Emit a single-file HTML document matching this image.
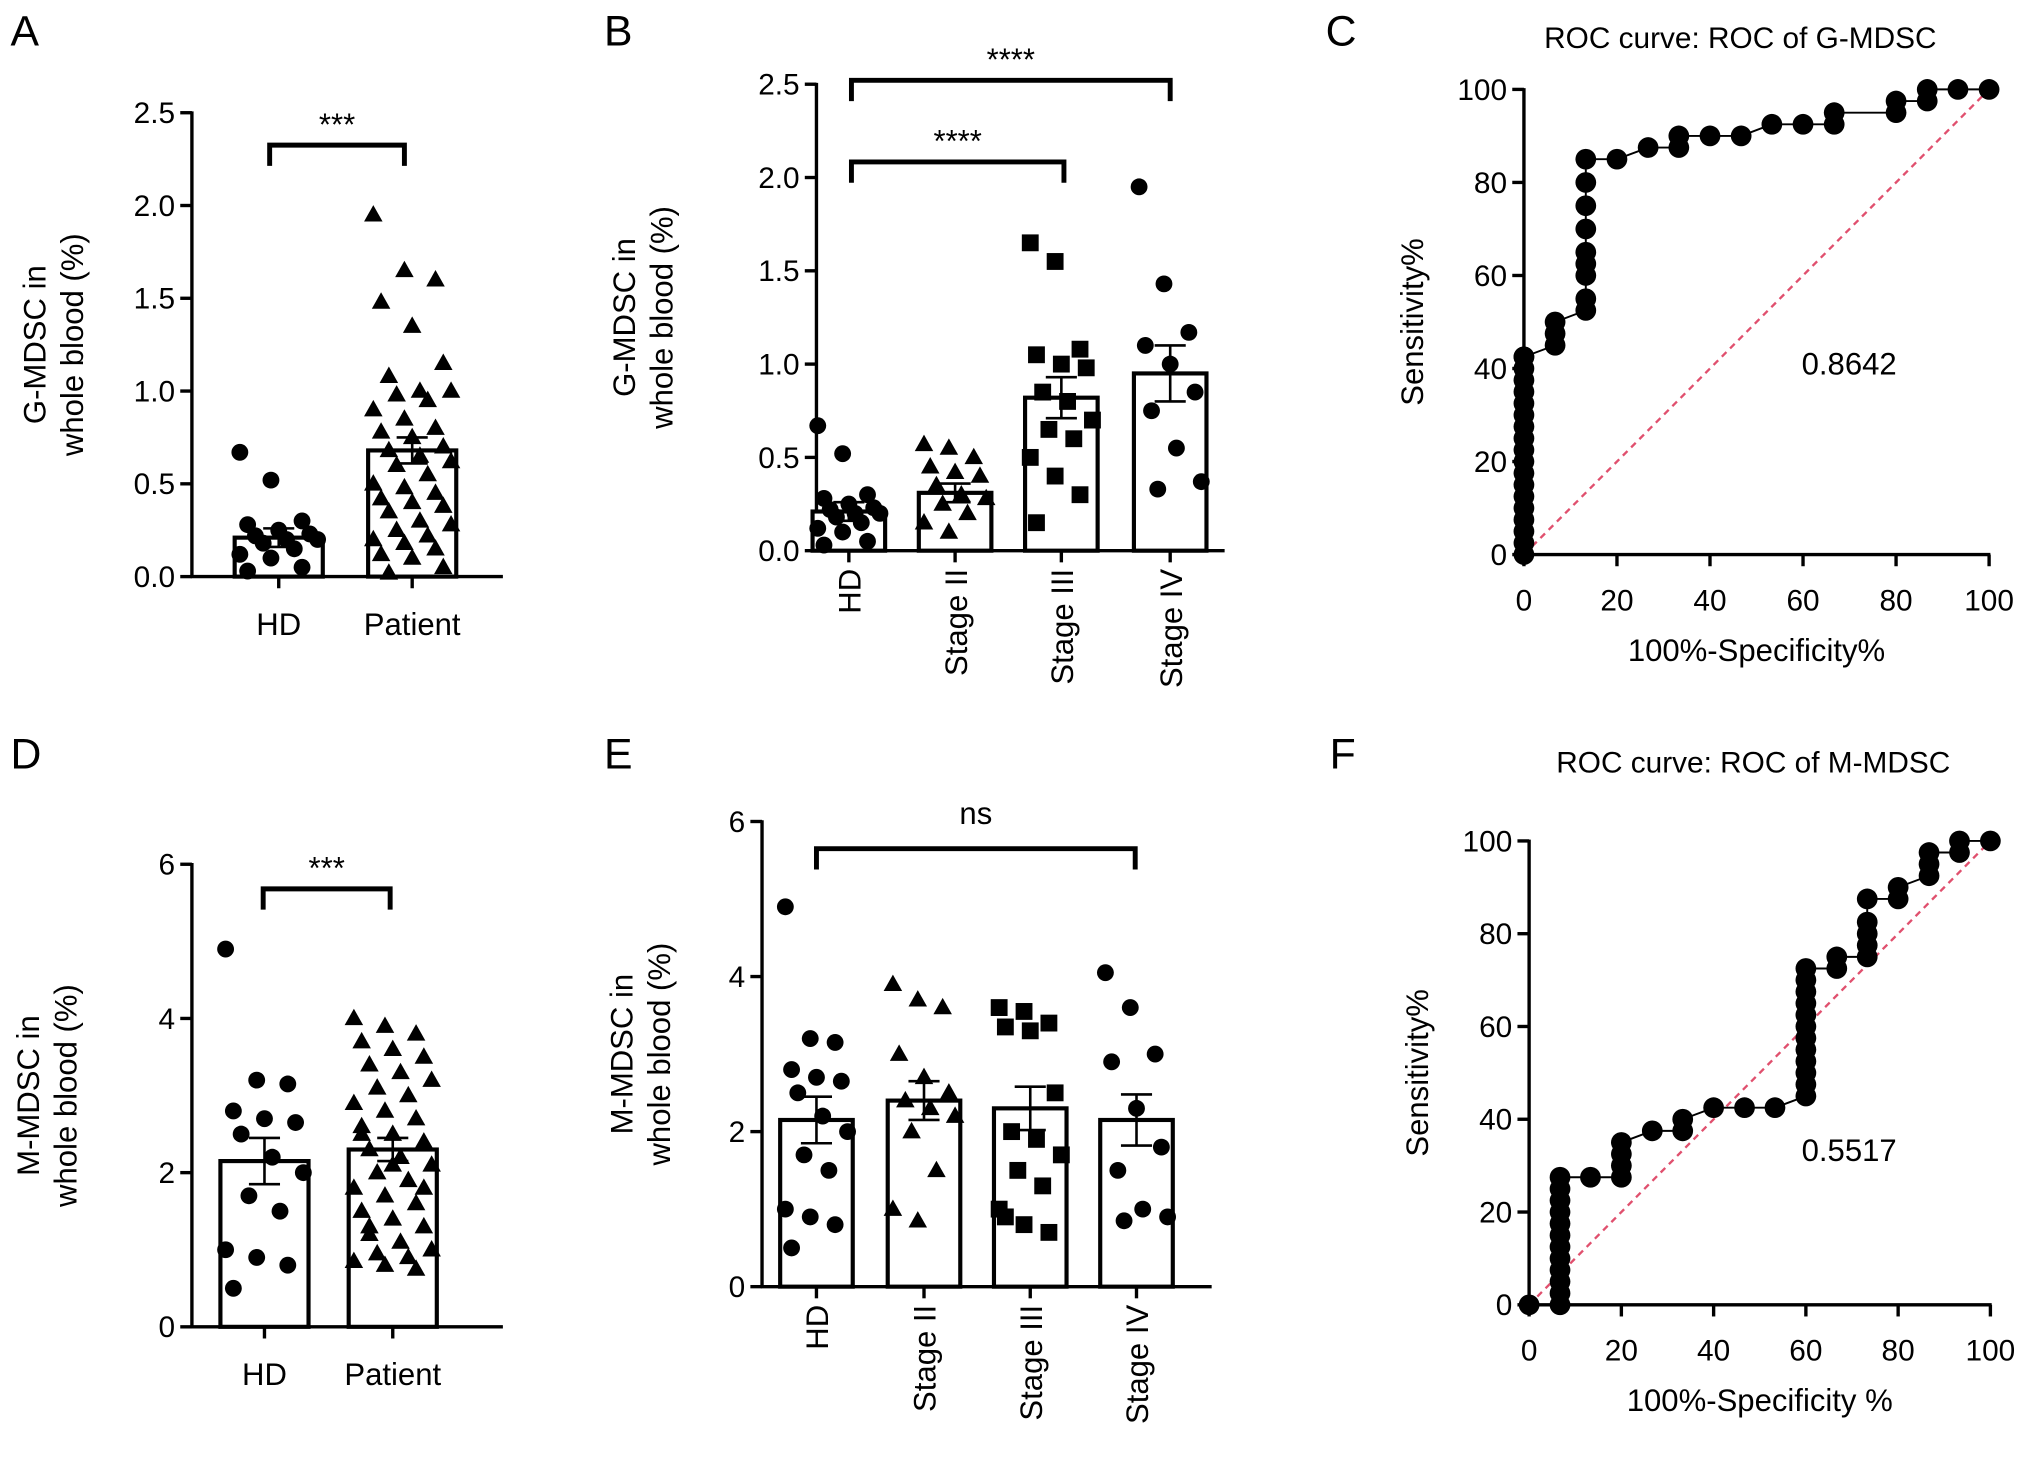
<!DOCTYPE html>
<html><head><meta charset="utf-8"><style>
html,body{margin:0;padding:0;background:#fff;}
svg{display:block;font-family:"Liberation Sans",Arial,sans-serif;}
</style></head><body>
<svg id="fig" width="2032" height="1459" viewBox="0 0 1568 1126" xmlns="http://www.w3.org/2000/svg"></svg>
<script>
// ---------- DATA ----------
const groupsA = ["HD","Patient"];
const meansA = [0.21,0.68];
const semA = [0.05,0.07];
const ptsA_HD = [0.67,0.52,0.3,0.28,0.25,0.23,0.22,0.2,0.2,0.18,0.15,0.12,0.1,0.05,0.03];
const ptsA_P = [1.95,1.65,1.6,1.48,1.35,1.15,1.08,1.0,1.0,0.98,0.95,0.9,0.85,0.8,0.78,0.75,0.7,0.68,0.65,0.62,0.6,0.55,0.5,0.48,0.45,0.42,0.4,0.38,0.35,0.3,0.28,0.25,0.22,0.2,0.18,0.15,0.12,0.1,0.05,0.02];
const ticksA = [0,0.5,1.0,1.5,2.0,2.5];

const groupsB = ["HD","Stage II","Stage III","Stage IV"];
const meansB = [0.21,0.31,0.82,0.95];
const semB = [0.05,0.05,0.11,0.15];
const ptsB_HD = ptsA_HD;
const ptsB_II = [0.57,0.55,0.5,0.45,0.42,0.4,0.35,0.3,0.28,0.25,0.2,0.15,0.1];
const ptsB_III = [1.65,1.55,1.08,1.05,1.0,0.98,0.85,0.8,0.7,0.65,0.6,0.5,0.4,0.3,0.15];
const ptsB_IV = [1.95,1.43,1.17,1.1,1.0,0.85,0.75,0.55,0.37,0.33];

const meansD = [2.15,2.3];
const semD = [0.3,0.15];
const ptsD_HD = [4.9,3.2,3.15,2.8,2.7,2.65,2.5,2.2,2.0,1.7,1.5,1.0,0.9,0.8,0.5];
const ptsD_P = [4.0,3.9,3.8,3.7,3.6,3.5,3.4,3.3,3.2,3.1,3.0,2.9,2.8,2.7,2.6,2.5,2.4,2.3,2.2,2.1,2.0,1.9,1.8,1.7,1.6,1.5,1.4,1.3,1.2,1.1,1.0,0.95,0.9,0.85,0.8,0.75,2.5,2.1,1.8,1.3];
const ticksD = [0,2,4,6];

const meansE = [2.15,2.4,2.3,2.15];
const semE = [0.3,0.25,0.28,0.33];
const ptsE_HD = ptsD_HD;
const ptsE_II = [3.9,3.7,3.6,3.0,2.7,2.5,2.4,2.3,2.2,2.0,1.5,1.0,0.85];
const ptsE_III = [3.6,3.55,3.4,3.35,3.3,2.5,2.0,1.9,1.7,1.5,1.3,1.0,0.8,0.7,0.9];
const ptsE_IV = [4.05,3.6,3.0,2.9,2.3,1.8,1.5,1.0,0.9,0.85];

const rocC_fpr = [0,0,0,0,0,0,0,0,0,0,0,0,0,0,0,0,0,0,0,6.7,6.7,6.7,13.3,13.3,13.3,13.3,13.3,13.3,13.3,13.3,13.3,20,26.7,33.3,33.3,40,46.7,53.3,60,66.7,66.7,80,80,86.7,86.7,93.3,100];
const rocC_tpr = [0,2.5,5,7.5,10,12.5,15,17.5,20,22.5,25,27.5,30,32.5,35,37.5,40,42.5,42.5,45,47.5,50,52.5,55,60,62.5,65,70,75,80,85,85,87.5,87.5,90,90,90,92.5,92.5,92.5,95,95,97.5,97.5,100,100,100];
const rocF_fpr = [0,6.7,6.7,6.7,6.7,6.7,6.7,6.7,6.7,6.7,6.7,6.7,6.7,13.3,20,20,20,20,26.7,33.3,33.3,40,46.7,53.3,60,60,60,60,60,60,60,60,60,60,60,60,66.7,66.7,73.3,73.3,73.3,73.3,73.3,80,80,86.7,86.7,86.7,93.3,93.3,100];
const rocF_tpr = [0,0,2.5,5,7.5,10,12.5,15,17.5,20,22.5,25,27.5,27.5,27.5,30,32.5,35,37.5,37.5,40,42.5,42.5,42.5,45,47.5,50,52.5,55,57.5,60,62.5,65,67.5,70,72.5,72.5,75,75,77.5,80,82.5,87.5,87.5,90,92.5,95,97.5,97.5,100,100];
const rocTicks = [0,20,40,60,80,100];

// ---------- HELPERS ----------
const svg = document.getElementById('fig');
const NS = 'http://www.w3.org/2000/svg';
const TF = 23, LF = 24;
function el(tag, attrs, parent){
  const e = document.createElementNS(NS, tag);
  for (const k in attrs) e.setAttribute(k, attrs[k]);
  (parent||svg).appendChild(e);
  return e;
}
function txt(x,y,s,size,anchor,parent,rot){
  const t = el('text',{x:x,y:y,'font-size':size,'text-anchor':anchor||'middle',fill:'#000'},parent);
  if(rot) t.setAttribute('transform',`rotate(${rot} ${x} ${y})`);
  t.textContent = s;
  return t;
}
function linearScale(d0,d1,r0,r1){return v=>r0+(v-d0)/(d1-d0)*(r1-r0);}
function marker(g,shape,x,y,r){
  let m;
  if(shape==='circle') m = el('circle',{cx:x,cy:y,r:r,fill:'#000'},g);
  else if(shape==='tri') m = el('polygon',{points:`${x},${y-r*1.15} ${x-r*1.1},${y+r*0.8} ${x+r*1.1},${y+r*0.8}`,fill:'#000'},g);
  else m = el('rect',{x:x-r,y:y-r,width:2*r,height:2*r,fill:'#000'},g);
  
  
}

function barPanel(cfg){
  const g = el('g',{});
  
  
  const y = linearScale(0,cfg.ymax,cfg.y0,cfg.ytop);
  const ya = el('line',{x1:cfg.x0,y1:cfg.y0+1,x2:cfg.x0,y2:cfg.ytop-1,stroke:'#000','stroke-width':2.6},g);
   
  const xa = el('line',{x1:cfg.x0-1,y1:cfg.y0,x2:cfg.x1,y2:cfg.y0,stroke:'#000','stroke-width':2.6},g);
   
  cfg.ticks.forEach(t=>{
    el('line',{x1:cfg.x0-9,y1:y(t),x2:cfg.x0,y2:y(t),stroke:'#000','stroke-width':2.6},g);
    const tl = txt(cfg.x0-13,y(t)+8,cfg.tickFmt(t),TF,'end',g);
     
  });
  const l1 = txt(cfg.ylabX,(cfg.y0+cfg.ytop)/2,cfg.ylab1,LF,'middle',g,-90);
   
  const l2 = txt(cfg.ylabX+29,(cfg.y0+cfg.ytop)/2,cfg.ylab2,LF,'middle',g,-90);
   
  cfg.groups.forEach((name,i)=>{
    const cx = cfg.centers[i], w = cfg.barW;
    el('line',{x1:cx,y1:cfg.y0,x2:cx,y2:cfg.y0+9,stroke:'#000','stroke-width':2.6},g);
    const b = el('rect',{x:cx-w/2,y:y(cfg.means[i]),width:w,height:cfg.y0-y(cfg.means[i]),fill:'#fff',stroke:'#000','stroke-width':3.2},g);
    
    
    const pts = cfg.points[i];
    pts.forEach((v,j)=>{
      const off = (((j*37)%11)-5)/5*(w/2-4);
      marker(g,cfg.shapes[i],cx+off,y(v),cfg.mr);
    });
    const m=cfg.means[i], s=cfg.sem[i];
    el('line',{x1:cx,y1:y(m+s),x2:cx,y2:y(m-s),stroke:'#000','stroke-width':2},g);
    el('line',{x1:cx-12,y1:y(m+s),x2:cx+12,y2:y(m+s),stroke:'#000','stroke-width':2},g);
    el('line',{x1:cx-12,y1:y(m-s),x2:cx+12,y2:y(m-s),stroke:'#000','stroke-width':2},g);
    let lbl;
    if(cfg.rotLabels) lbl = txt(cx+9,cfg.y0+14,name,LF,'end',g,-90);
    else lbl = txt(cx,cfg.y0+45,name,LF,'middle',g);
     
  });
  cfg.brackets.forEach(br=>{
    const p = el('path',{d:`M${br[0]},${br[2]+16} V${br[2]} H${br[1]} V${br[2]+16}`,fill:'none',stroke:'#000','stroke-width':3.8},g);
     
    const isNs = br[3]==='ns';
    const s = txt((br[0]+br[1])/2,isNs?br[2]-19:br[2]-8,br[3],isNs?24:24,'middle',g);
     
  });
}

function rocPanel(cfg){
  const g = el('g',{});
  
  
  const x = linearScale(0,100,cfg.x0,cfg.x1);
  const y = linearScale(0,100,cfg.y0,cfg.ytop);
  el('line',{x1:cfg.x0,y1:cfg.y0+1,x2:cfg.x0,y2:cfg.ytop-1,stroke:'#000','stroke-width':2.6},g);
  el('line',{x1:cfg.x0-1,y1:cfg.y0,x2:cfg.x1+1,y2:cfg.y0,stroke:'#000','stroke-width':2.6},g);
  rocTicks.forEach(t=>{
    el('line',{x1:cfg.x0-9,y1:y(t),x2:cfg.x0,y2:y(t),stroke:'#000','stroke-width':2.6},g);
    el('line',{x1:x(t),y1:cfg.y0,x2:x(t),y2:cfg.y0+9,stroke:'#000','stroke-width':2.6},g);
    const a = txt(cfg.x0-13,y(t)+8,String(t),TF,'end',g);
     
    const b = txt(x(t),cfg.y0+43,String(t),TF,'middle',g);
     
  });
  const d = el('line',{x1:x(0),y1:y(0),x2:x(100),y2:y(100),stroke:'#e0506e','stroke-width':1.8,'stroke-dasharray':'5,4'},g);
   
  const pl = el('polyline',{points:cfg.fpr.map((f,i)=>x(f)+','+y(cfg.tpr[i])).join(' '),fill:'none',stroke:'#000','stroke-width':1.5},g);
   
  cfg.fpr.forEach((f,i)=>marker(g,'circle',x(f),y(cfg.tpr[i]),8));
  const t = txt(cfg.titleX,cfg.titleY,cfg.title,23,'middle',g);
   
  const xl = txt((cfg.x0+cfg.x1)/2,cfg.y0+82,cfg.xlab,LF,'middle',g);
   
  const yl = txt(cfg.x0-78,(cfg.y0+cfg.ytop)/2,'Sensitivity%',LF,'middle',g,-90);
   
  const au = txt(cfg.aucX,cfg.aucY,cfg.auc,LF,'middle',g);
   
}

const f1 = v=>v.toFixed(1), f0 = v=>String(v);
barPanel({name:'panel-a',x0:148,x1:388,y0:445,ytop:87,ymax:2.5,ticks:ticksA,tickFmt:f1,ylabX:35,ylab1:'G-MDSC in',ylab2:'whole blood (%)',
  groups:groupsA,centers:[215,318],barW:68,means:meansA,sem:semA,points:[ptsA_HD,ptsA_P],shapes:['circle','tri'],mr:6.5,rotLabels:false,
  brackets:[[208,312,112,'***']]});
barPanel({name:'panel-b',x0:630,x1:945,y0:425,ytop:65,ymax:2.5,ticks:ticksA,tickFmt:f1,ylabX:490,ylab1:'G-MDSC in',ylab2:'whole blood (%)',
  groups:groupsB,centers:[655,737,819,903],barW:56,means:meansB,sem:semB,points:[ptsB_HD,ptsB_II,ptsB_III,ptsB_IV],shapes:['circle','tri','square','circle'],mr:6.5,rotLabels:true,
  brackets:[[657,821,125,'****'],[657,903,62,'****']]});
barPanel({name:'panel-d',x0:148,x1:388,y0:1024,ytop:667,ymax:6,ticks:ticksD,tickFmt:f0,ylabX:30,ylab1:'M-MDSC in',ylab2:'whole blood (%)',
  groups:groupsA,centers:[204,303],barW:68,means:meansD,sem:semD,points:[ptsD_HD,ptsD_P],shapes:['circle','tri'],mr:6.5,rotLabels:false,
  brackets:[[203,301,686,'***']]});
barPanel({name:'panel-e',x0:588,x1:935,y0:993,ytop:634,ymax:6,ticks:ticksD,tickFmt:f0,ylabX:488,ylab1:'M-MDSC in',ylab2:'whole blood (%)',
  groups:groupsB,centers:[630,713,795,877],barW:56,means:meansE,sem:semE,points:[ptsE_HD,ptsE_II,ptsE_III,ptsE_IV],shapes:['circle','tri','square','circle'],mr:6.5,rotLabels:true,
  brackets:[[630,876,655,'ns']]});
rocPanel({name:'panel-c',x0:1176,x1:1535,y0:428,ytop:69,fpr:rocC_fpr,tpr:rocC_tpr,title:'ROC curve: ROC of G-MDSC',titleX:1343,titleY:37,xlab:'100%-Specificity%',auc:'0.8642',aucX:1427,aucY:289});
rocPanel({name:'panel-f',x0:1180,x1:1536,y0:1007,ytop:649,fpr:rocF_fpr,tpr:rocF_tpr,title:'ROC curve: ROC of M-MDSC',titleX:1353,titleY:596,xlab:'100%-Specificity %',auc:'0.5517',aucX:1427,aucY:896});

[['A',8,35],['B',466,35],['C',1023,35],['D',8,593],['E',466,593],['F',1026,593]].forEach(p=>{
  const t = txt(p[1],p[2],p[0],33,'start');
  
  
});
</script>
</body></html>
